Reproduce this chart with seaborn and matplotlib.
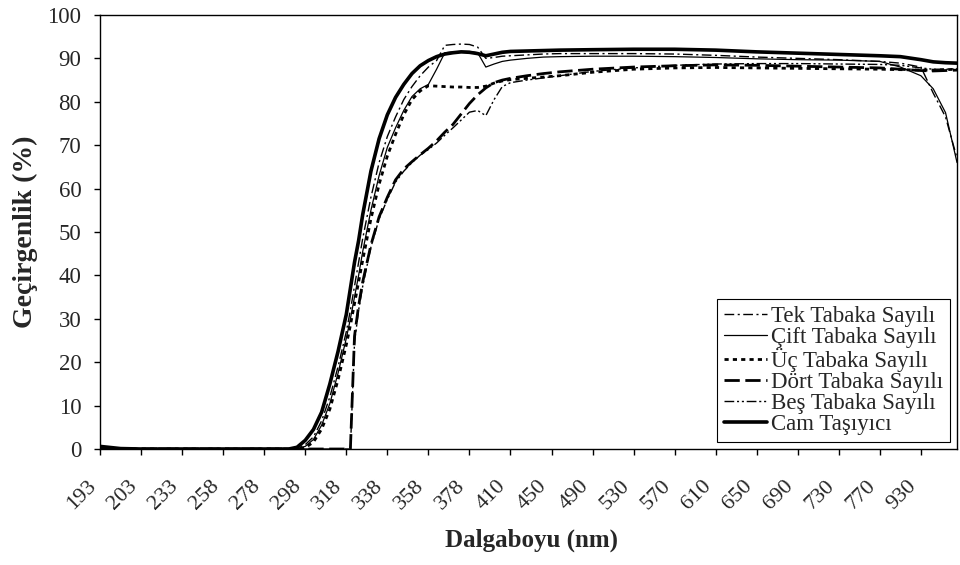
import matplotlib
matplotlib.use("Agg")
import matplotlib.pyplot as plt
import matplotlib.transforms as mtransforms
import seaborn as sns
import pandas as pd

# wavelength labels shown on the category axis (one per major tick)
wl_labels = ['193', '203', '233', '258', '278', '298', '318', '338', '358', '378', '410',
             '450', '490', '530', '570', '610', '650', '690', '730', '770', '930']

# sample position along the category axis (1 unit = one labelled tick)
pos = [0, 0.5, 1, 2, 3, 4, 4.6, 4.8, 5.0, 5.2, 5.4, 5.6, 5.8, 6.0, 6.1, 6.2, 6.3, 6.4, 6.6, 6.8,
       7.0, 7.2, 7.4, 7.6, 7.8, 8.0, 8.2, 8.4, 8.6, 8.8, 9.0, 9.2, 9.4, 9.6, 9.8, 10.0, 10.4, 10.8,
       11.2, 12, 13, 14, 15, 16, 17, 18, 19, 19.5, 20, 20.3, 20.6, 20.88]

tek = [0, 0, 0, 0, 0, 0, 0, 0.2, 1.0, 2.8, 6.5, 12, 19, 27, 32, 37.5, 43, 48.5, 58, 66,
       72, 76.5, 80.5, 83.5, 86, 88, 89.5, 93, 93.2, 93.3, 93.2, 92.6, 90, 90.2, 90.5, 90.6, 90.8, 91,
       91.1, 91.1, 91.1, 91, 90.7, 90.3, 90, 89.7, 89.3, 88.9, 88, 82, 76.5, 67]

cift = [0, 0, 0, 0, 0, 0, 0, 0.1, 0.6, 2.2, 5.5, 10.5, 17.5, 25.5, 30, 35, 40, 45.5, 55, 63,
        69.5, 74, 78, 81.2, 83, 84, 87.5, 91.3, 91.5, 91.6, 91.6, 91.3, 88, 88.7, 89.3, 89.6, 90, 90.3,
        90.4, 90.5, 90.5, 90.4, 90.2, 89.9, 89.7, 89.6, 89.3, 88, 86, 83, 77.5, 66]

uc = [0, 0, 0, 0, 0, 0, 0, 0, 0.3, 1.6, 4.6, 9.2, 16, 24, 28.5, 33.5, 38.5, 43.5, 53, 61,
      67.5, 72.5, 77, 80.5, 82.5, 83.7, 83.6, 83.5, 83.4, 83.4, 83.3, 83.3, 83.6, 84.3, 84.8, 85.1, 85.4, 85.7,
      86, 86.8, 87.5, 87.8, 87.9, 87.8, 87.7, 87.6, 87.5, 87.4, 87.3, 87.3, 87.4, 87.5]

dort = [0, 0, 0, 0, 0, 0, 0, 0, 0, 0, 0, 0, 0, 0, 0, 26, 33, 38.5, 47, 53.5,
        58, 62, 64.5, 66.2, 67.8, 69.3, 71, 73, 74.8, 77.2, 79.6, 81.6, 83.2, 84.4, 85, 85.4, 86, 86.5,
        86.9, 87.5, 88, 88.3, 88.5, 88.4, 88.2, 88, 87.8, 87.5, 87.2, 87.1, 87.2, 87.3]

bes = [0, 0, 0, 0, 0, 0, 0, 0, 0, 0, 0, 0, 0, 0, 0, 24.5, 32, 37.5, 46.5, 53,
       57.5, 61.5, 64, 66, 67.7, 69, 70.5, 72.3, 74, 75.8, 77.6, 78, 76.8, 80.5, 83.5, 84.4, 85, 85.5,
       86, 87, 87.8, 88.4, 88.7, 88.8, 88.8, 88.7, 88.6, 88.4, 87.8, 87.5, 87.5, 87.6]

cam = [0.6, 0.1, 0, 0, 0, 0, 0, 0.4, 2.0, 4.5, 8.5, 15, 22.5, 31, 37, 43, 48, 54, 64, 71.5,
       77, 81, 84, 86.5, 88.3, 89.5, 90.4, 91, 91.3, 91.5, 91.4, 91.1, 90.6, 91.0, 91.4, 91.6, 91.7, 91.8,
       91.9, 92.0, 92.1, 92.1, 91.9, 91.5, 91.2, 90.9, 90.6, 90.4, 89.7, 89.2, 89.0, 88.9]

names = ['Tek Tabaka Sayılı', 'Çift Tabaka Sayılı', 'Üç Tabaka Sayılı',
         'Dört Tabaka Sayılı', 'Beş Tabaka Sayılı', 'Cam Taşıyıcı']
values = [tek, cift, uc, dort, bes, cam]

# (linewidth, linestyle) per series, Excel-like patterns
line_styles = [
    (1.0, (0, (7, 2.5, 1.5, 2.5))),
    (0.9, '-'),
    (2.0, (0, (3, 3))),
    (2.0, (0, (11, 4))),
    (1.0, (0, (7, 2, 1.5, 2, 1.5, 2))),
    (2.6, '-'),
]

sns.set_theme(style="white")
plt.rcParams['font.family'] = ['Liberation Serif', 'DejaVu Serif']
plt.rcParams['lines.scale_dashes'] = False

fig, ax = plt.subplots(figsize=(9.6, 5.65), dpi=100)
fig.subplots_adjust(left=0.1042, right=0.9969, bottom=0.2053, top=0.9735)

for name, vals, (lw, ls) in zip(names, values, line_styles):
    df = pd.DataFrame({'pos': pos, 'T': vals})
    sns.lineplot(data=df, x='pos', y='T', ax=ax, color='black', linewidth=lw,
                 linestyle=ls, label=name, estimator=None)

ax.set_xlim(0, pos[-1])
ax.set_ylim(0, 100)
ax.set_yticks(range(0, 101, 10))
ax.set_xticks(range(len(wl_labels)))
ax.set_xticklabels(wl_labels, rotation=45, ha='right', va='center',
                   rotation_mode='anchor', fontsize=16)
ax.tick_params(axis='x', bottom=True, direction='out', length=4.5, width=1,
               color='black', pad=20)
ax.tick_params(axis='y', left=True, direction='out', length=4.5, width=1,
               color='black', pad=9, labelsize=16.5)

offset = mtransforms.ScaledTranslation(-7 / 100, 0, fig.dpi_scale_trans)
for lbl in ax.xaxis.get_majorticklabels():
    lbl.set_transform(lbl.get_transform() + offset)

for sp in ax.spines.values():
    sp.set_color('black')
    sp.set_linewidth(1.0)

ax.set_xlabel('Dalgaboyu (nm)', fontsize=18, fontweight='bold')
ax.set_ylabel('Geçirgenlik (%)', fontsize=20, fontweight='bold')
ax.xaxis.set_label_coords(0.503, -0.183)
ax.yaxis.set_label_coords(-0.072, 0.5)

leg = ax.legend(loc='lower right', bbox_to_anchor=(0.992, 0.016), borderaxespad=0,
                fontsize=16.5, frameon=True, fancybox=False, framealpha=1,
                edgecolor='black', handlelength=1.85, handletextpad=0.2,
                borderpad=0.3, labelspacing=0.0)
leg.get_frame().set_linewidth(0.8)

plt.savefig('out.png', dpi=100)
